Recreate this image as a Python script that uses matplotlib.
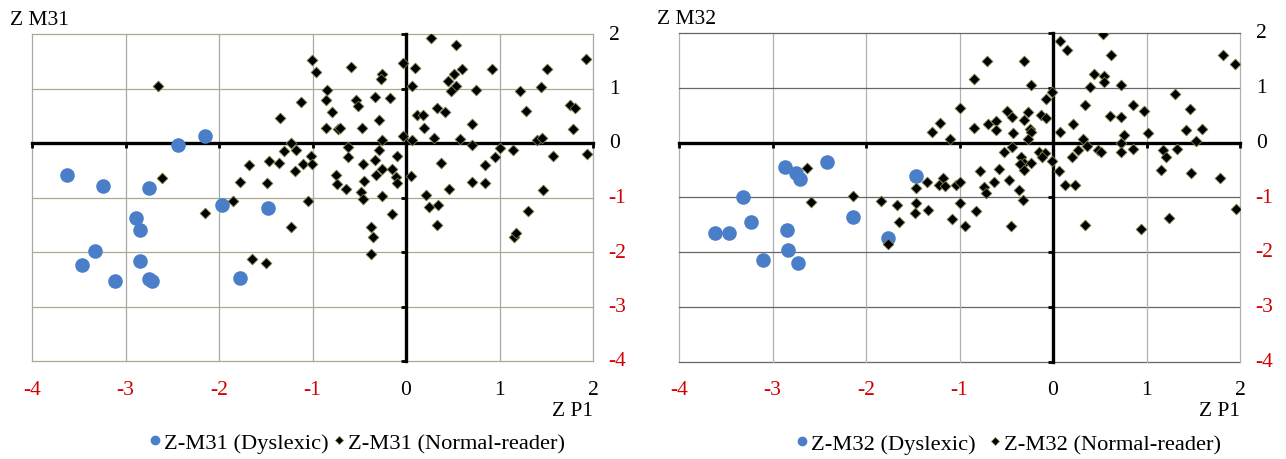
import matplotlib
matplotlib.use('Agg')
import matplotlib.pyplot as plt
import matplotlib.transforms as mtransforms
from matplotlib.lines import Line2D

plt.rcParams['font.family'] = ['Liberation Serif', 'DejaVu Serif']

ticks = [-4, -3, -2, -1, 0, 1, 2]

# ---- M31 panel ----
m31_dys_x = [-3.63, -3.24, -2.75, -2.44, -2.15, -1.97, -1.48, -2.89, -2.85, -3.33,
             -3.47, -2.84, -3.11, -2.75, -2.72, -1.78]
m31_dys_y = [-0.58, -0.78, -0.82, -0.03, 0.12, -1.14, -1.20, -1.38, -1.59, -1.99,
             -2.23, -2.17, -2.54, -2.50, -2.54, -2.48]

m31_nor_x = [-2.65, -2.61, -1.01, -0.96, -1.12, -1.35, -1.23, -1.30, -1.18, -1.68,
             -1.46, -1.36, -1.02, -1.10, -1.01, -1.19, -1.78, -1.49, -1.85, -2.15,
             -1.05, -1.23, -1.65, -1.50,
             -0.59, -0.26, -0.27, -0.03, 0.10, 0.06, -0.84, -0.86, -0.79, -0.54,
             -0.51, -0.33, -0.17, -0.29, -0.86, -0.73, -0.71, -0.47, -0.26, -0.03,
             0.06, 0.12, -0.62, -0.62, -0.29, -0.10, -0.46, -0.33, -0.26, -0.32,
             -0.15, -0.75, -0.74, -0.45, -0.64, -0.48, -0.46, -0.26, -0.11, -0.10,
             0.05, -0.15, -0.37, -0.35, -0.37,
             0.27, 0.53, 0.51, 0.60, 0.45, 0.53, 0.48, 0.75, 0.92, 1.22,
             1.51, 1.44, 1.93, 0.33, 0.18, 0.42, 0.19, 0.71, 1.28, 1.75,
             1.81, 1.79, 0.30, 0.58, 0.71, 1.00, 1.14, 1.40, 1.45, 1.57,
             1.94, 0.37, 0.84, 0.95, 0.71, 0.85, 0.46, 1.46, 0.21, 0.25,
             0.34, 0.33, 1.30, 1.16, 1.18]
m31_nor_y = [1.04, -0.64, 1.52, 1.31, 0.76, 0.45, 0.00, -0.15, -0.13, -0.40,
             -0.33, -0.37, -0.23, -0.39, -0.38, -0.51, -0.72, -0.73, -1.06, -1.28,
             -1.06, -1.55, -2.13, -2.21,
             1.39, 1.27, 1.17, 1.47, 1.38, 1.05, 0.97, 0.78, 0.56, 0.78,
             0.67, 0.85, 0.83, 0.43, 0.28, 0.26, 0.28, 0.28, 0.06, 0.13,
             0.06, 0.51, -0.08, -0.26, -0.13, -0.23, -0.39, -0.32, -0.48, -0.59,
             -0.48, -0.59, -0.75, -0.69, -0.84, -0.89, -1.03, -0.98, -0.62, -0.73,
             -0.61, -1.30, -1.55, -1.73, -2.04,
             1.92, 1.80, 1.27, 1.35, 1.13, 1.05, 0.96, 0.97, 1.35, 0.96,
             1.35, 1.02, 1.55, 0.64, 0.51, 0.56, 0.28, 0.34, 0.59, 0.69,
             0.64, 0.26, 0.09, 0.07, -0.03, -0.10, -0.12, 0.05, 0.09, -0.23,
             -0.20, -0.36, -0.40, -0.25, -0.72, -0.73, -0.85, -0.87, -0.95, -1.18,
             -1.14, -1.51, -1.24, -1.73, -1.66]

# ---- M32 panel ----
m32_dys_x = [-3.61, -3.46, -3.32, -3.23, -3.10, -2.87, -2.75, -2.71, -2.42, -2.85,
             -2.83, -2.73, -2.14, -1.77, -1.47]
m32_dys_y = [-1.65, -1.65, -1.00, -1.46, -2.14, -0.44, -0.56, -0.66, -0.35, -1.60,
             -1.97, -2.21, -1.36, -1.74, -0.61]

m32_nor_x = [-2.63, -2.59, -2.14, -1.84, -1.67, -1.65, -1.76, -1.48, -1.46, -1.47,
             -1.35, -1.34, -1.22, -1.18, -1.16, -1.04, -0.99, -0.99, -1.08, -0.94,
             -1.29, -1.21, -1.10, -0.99,
             -0.84, -0.71, -0.31, -0.24, -0.84, -0.69, -0.61, -0.61, -0.49, -0.44,
             -0.43, -0.31, -0.27, -0.25, -0.24, -0.27, -0.13, -0.08, -0.08, -0.01,
             0.07, 0.07, -0.44, -0.52, -0.34, -0.31, -0.35, -0.24, -0.31, -0.15,
             -0.09, -0.12, -0.01, 0.06, -0.58, -0.47, -0.78, -0.63, -0.74, -0.72,
             -0.36, -0.32, -0.82, -0.45,
             0.15, 0.53, 0.62, 0.44, 0.55, 0.55, 0.40, 0.73, 0.34, 0.61,
             0.73, 0.86, 0.97, 1.30, 1.47, 1.42, 1.59, 1.53, 1.82, 1.95,
             0.21, 0.32, 0.36, 0.27, 0.20, 0.48, 0.51, 0.76, 0.73, 0.73,
             0.86, 1.02, 1.18, 1.21, 1.16, 1.33, 1.48, 1.79, 1.96, 1.24,
             0.94, 0.34, 0.13, 0.24]
m32_nor_y = [-0.47, -1.09, -0.97, -1.06, -1.14, -1.45, -1.85, -1.29, -1.10, -0.84,
             -0.72, -1.23, -0.77, -0.65, -0.80, -0.77, -0.73, -1.10, -1.40, -1.52,
             0.20, 0.36, 0.06, 0.63,
             1.16, 1.49, 1.49, 1.05, 0.26, 0.33, 0.40, 0.23, 0.58, 0.46,
             0.17, 0.42, 0.56, 0.25, 0.19, 0.06, 0.50, 0.44, 0.79, 0.92,
             1.86, 0.20, -0.09, -0.18, -0.27, -0.38, -0.39, -0.38, -0.50, -0.17,
             -0.20, -0.27, -0.33, -0.52, -0.48, -0.68, -0.52, -0.73, -0.82, -0.92,
             -0.87, -1.05, -1.25, -1.52,
             1.69, 1.99, 1.60, 1.25, 1.21, 1.11, 1.01, 1.05, 0.69, 0.48,
             0.46, 0.69, 0.57, 0.88, 0.61, 0.22, 0.25, 0.03, 1.59, 1.43,
             0.34, 0.06, -0.06, -0.13, -0.26, -0.13, -0.18, 0.14, 0.00, -0.18,
             -0.11, 0.17, -0.13, -0.27, -0.50, -0.11, -0.56, -0.65, -1.21, -1.37,
             -1.58, -1.50, -0.77, -0.77]

blue = '#4a7ec8'
red = '#d40000'
diamond_edge = '#7d7d45'


def draw_panel(ax, dys_x, dys_y, nor_x, nor_y, name, hgrid, vgrid, leg_x, colsp):
    ax.set_xlim(-4, 2)
    ax.set_ylim(-4, 2)

    # grid (also forms the outer frame)
    for v in ticks:
        ax.axvline(v, color=vgrid, lw=0.9, zorder=0.5, clip_on=False)
        ax.axhline(v, color=hgrid, lw=0.9, zorder=0.5, clip_on=False)

    # axes crossing at zero
    ax.spines['top'].set_visible(False)
    ax.spines['right'].set_visible(False)
    ax.spines['left'].set_position(('data', 0))
    ax.spines['bottom'].set_position(('data', 0))
    for s in ['left', 'bottom']:
        ax.spines[s].set_linewidth(2.4)
        ax.spines[s].set_zorder(2)
    ax.set_xticks(ticks)
    ax.set_yticks(ticks)
    ax.tick_params(direction='out', length=3.5, width=2,
                   labelbottom=False, labelleft=False)

    ax.scatter(dys_x, dys_y, s=110, color=blue, linewidths=0, zorder=3)
    ax.scatter(nor_x, nor_y, s=30, marker='D', facecolor='black',
               edgecolor=diamond_edge, linewidths=0.6, zorder=4)

    # tick labels: bottom and right, negatives in red
    tx = mtransforms.blended_transform_factory(ax.transData, ax.transAxes)
    ty = mtransforms.blended_transform_factory(ax.transAxes, ax.transData)
    for v in ticks:
        c = red if v < 0 else 'black'
        ax.text(v, -0.086, str(v), transform=tx, ha='center', va='center',
                fontsize=15.5, color=c)
        ax.text(1.028, v, str(v), transform=ty, ha='left', va='center',
                fontsize=15.5, color=c)

    ax.text(1.0, -0.15, 'Z P1', transform=ax.transAxes, ha='right',
            va='center', fontsize=15.5)
    ax.text(-0.04, 1.045, 'Z ' + name, transform=ax.transAxes, ha='left',
            va='center', fontsize=15.5)

    handles = [
        Line2D([], [], ls='none', marker='o', ms=7, color=blue, mew=0),
        Line2D([], [], ls='none', marker='D', ms=4.3, mfc='black',
               mec=diamond_edge, mew=0.5),
    ]
    labels = ['Z-%s (Dyslexic)' % name, 'Z-%s (Normal-reader)' % name]
    ax.legend(handles, labels, loc='center', bbox_to_anchor=(leg_x, -0.25),
              ncol=2, frameon=False, fontsize=16.2, handlelength=0.5,
              handletextpad=0.15, columnspacing=colsp, borderaxespad=0)


fig = plt.figure(figsize=(12.86, 4.60), dpi=100)
ax1 = fig.add_axes([32 / 1286, 1 - 362 / 460, 561 / 1286, 327 / 460])
ax2 = fig.add_axes([679 / 1286, 1 - 362.5 / 460, 561 / 1286, 328.5 / 460])

draw_panel(ax1, m31_dys_x, m31_dys_y, m31_nor_x, m31_nor_y, 'M31',
           '#aaaa8c', '#a8a8a8', 0.579, 0.2)
draw_panel(ax2, m32_dys_x, m32_dys_y, m32_nor_x, m32_nor_y, 'M32',
           '#666666', '#b0b0b0', 0.588, 0.6)

fig.savefig('out.png', dpi=100)
